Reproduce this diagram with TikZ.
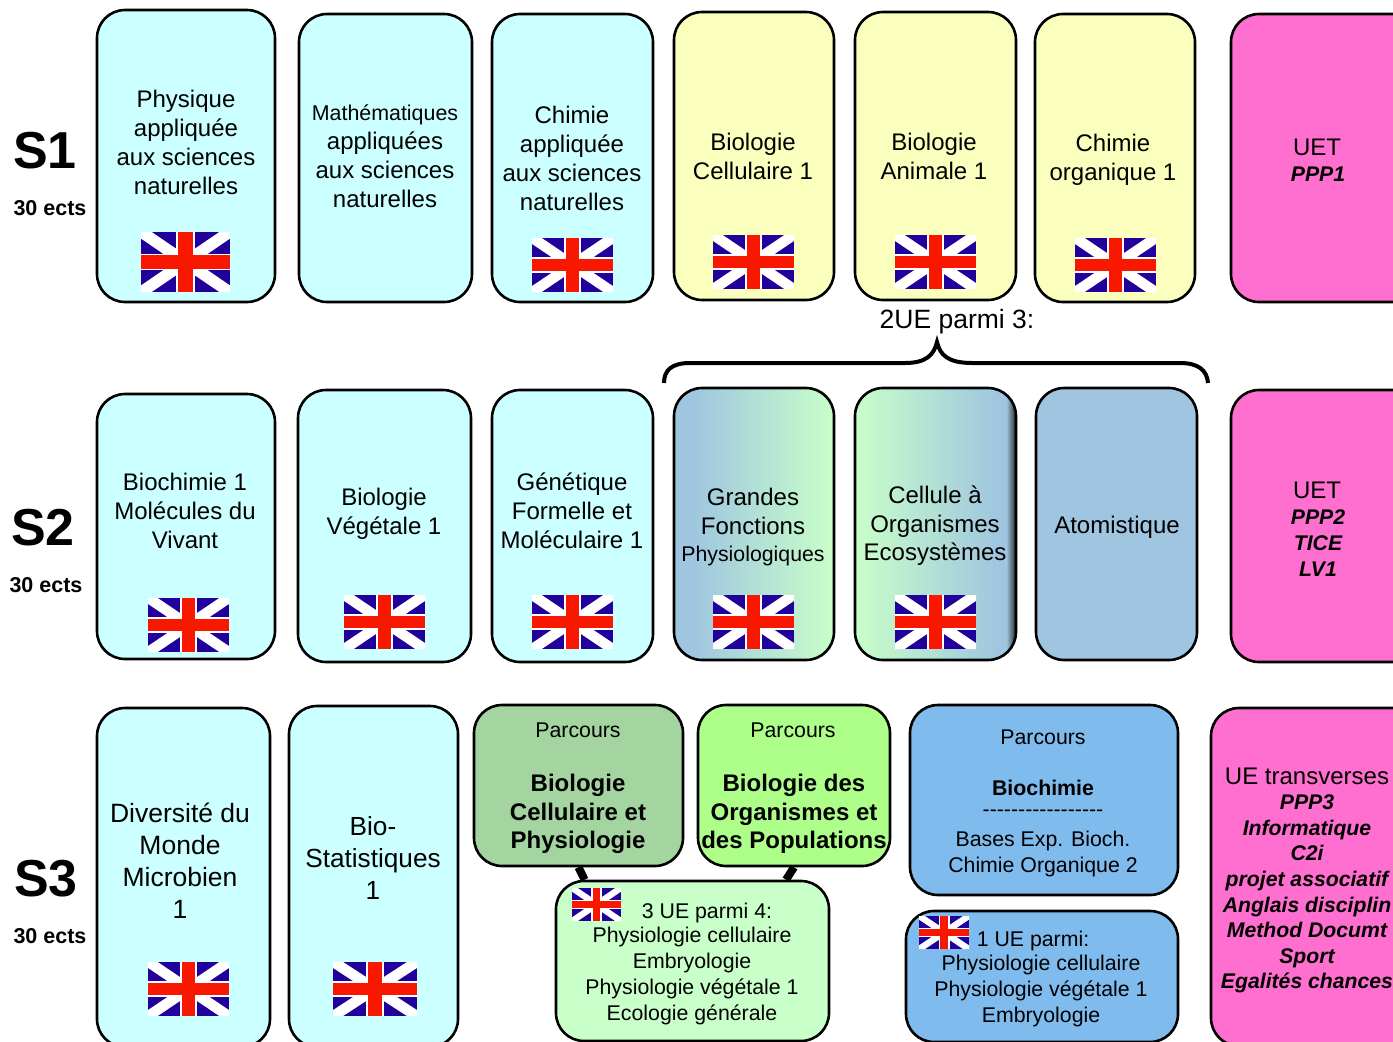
\documentclass[tikz,border=0pt]{standalone}
\usepackage{fontspec}
\setmainfont{Liberation Sans}
\usetikzlibrary{backgrounds}
\definecolor{uecyan}{HTML}{CCFFFF}
\definecolor{ueyellow}{HTML}{FAFFBE}
\definecolor{uepink}{HTML}{FF6FCF}
\definecolor{ueblue}{HTML}{9FC5E0}
\definecolor{uemint}{HTML}{C9FFC9}
\definecolor{uesage}{HTML}{A4D4A0}
\definecolor{uelime}{HTML}{AEFF8A}
\definecolor{uesky}{HTML}{80BBEE}
\definecolor{flagblue}{HTML}{22009C}
\definecolor{flagred}{HTML}{F81800}
\pgfdeclarehorizontalshading{grandesshade}{100bp}{color(0bp)=(ueblue); color(30bp)=(ueblue); color(75bp)=(uemint); color(100bp)=(uemint)}
\pgfdeclarehorizontalshading{celluleshade}{100bp}{color(0bp)=(uemint); color(25bp)=(uemint); color(70bp)=(ueblue); color(72bp)=(ueblue); color(75bp)=(black!85); color(100bp)=(black!85)}
\tikzset{
	uebox/.style={draw=black, line width=2.6pt, rounded corners=28pt, inner sep=0pt},
	txtbig/.style={align=center, inner sep=0pt, font=\fontsize{26.5}{32}\selectfont},
	txtmid/.style={align=center, inner sep=0pt, font=\fontsize{24}{29}\selectfont},
	txtsmall/.style={align=center, inner sep=0pt, font=\fontsize{21.3}{25.7}\selectfont},
	txtbold/.style={align=center, inner sep=0pt, font=\fontsize{24}{28.5}\selectfont\bfseries},
	txtppp/.style={align=center, inner sep=0pt, font=\fontsize{21.2}{25.6}\selectfont\bfseries\itshape},
	semlabel/.style={inner sep=0pt, font=\fontsize{52}{52}\selectfont\bfseries},
	ectslabel/.style={inner sep=0pt, font=\fontsize{21.5}{21.5}\selectfont\bfseries},
	uelink/.style={line width=8pt, black},
}
\def\uebox[#1](#2)(#3:#4:#5:#6){\node[uebox,#1,minimum width={(#5-#3)*1pt},minimum height={(#6-#4)*1pt}] (#2) at ({(#3+#5)/2},{(#4+#6)/2}) {};}
\def\ukflag(#1:#2:#3:#4){
	\begin{scope}[shift={(#1,#2)},xscale=#3,yscale=#4]
		\fill[flagblue] (0,0) rectangle (1,1);
		\fill[white] (0,0) -- (.12,0) -- (1,.89) -- (1,1) -- (.88,1) -- (0,.11) -- cycle;
		\fill[white] (1,0) -- (.88,0) -- (0,.89) -- (0,1) -- (.12,1) -- (1,.11) -- cycle;
		\fill[white] (.39,0) rectangle (.61,1);
		\fill[white] (0,.36) rectangle (1,.64);
		\fill[flagred] (.42,0) rectangle (.58,1);
		\fill[flagred] (0,.39) rectangle (1,.61);
	\end{scope}
}
\begin{document}
\begin{tikzpicture}[x=1pt,y=-1pt]
		\useasboundingbox (0,0) rectangle (1393,1042);
		\clip (0,0) rectangle (1393,1042);
		%%%%% S1 %%%%%
		\node[semlabel] (sOne) at (45,151) {S1};
		\node[ectslabel] (ectsOne) at (50,208) {30 ects};
		\uebox[fill=uecyan](physique)(97:10:275:302);
		\uebox[fill=uecyan](maths)(299:14:472:302);
		\uebox[fill=uecyan](chimieA)(492:14:653:302);
		\uebox[fill=ueyellow](bioCell)(674:12:834:300);
		\uebox[fill=ueyellow](bioAnim)(855:12:1016:300);
		\uebox[fill=ueyellow](chimieO)(1035:14:1195:302);
		\uebox[fill=uepink](uetOne)(1231:14:1425:302);
		\node[txtmid] (physiqueT) at (186,142) {Physique\\appliquée\\aux sciences\\naturelles};
		\node[txtmid] (mathsT) at (385,156) {{\fontsize{21.4}{29}\selectfont Mathématiques}\\appliquées\\aux sciences\\naturelles};
		\node[txtmid] (chimieAT) at (572,158.5) {Chimie\\appliquée\\aux sciences\\naturelles};
		\node[txtmid] (bioCellT) at (753,156.5) {Biologie\\Cellulaire 1};
		\node[txtmid] (bioAnimT) at (934,156.5) {Biologie\\Animale 1};
		\node[txtmid] (chimieOT) at (1113,160) {Chimie\\organique 1};
		\node[txtmid] (uetOneT) at (1317,147) {UET};
		\node[txtppp] (pppOne) at (1318,174) {PPP1};
		\ukflag(141:232:89:60);
		\ukflag(532:238:81:54);
		\ukflag(713:235:81:54);
		\ukflag(895:235:81:54);
		\ukflag(1075:238:81:54);
		
		%%%%% choice %%%%%
		\node[txtmid, font=\fontsize{26.5}{30}\selectfont] (choixT) at (957,322) {2UE parmi 3:};
		\draw[line width=4pt] (664,383) .. controls (664,370) and (672,363) .. (690,363) -- (905,363) .. controls (926,363) and (934,355) .. (937,342) .. controls (940,355) and (948,363) .. (972,363) -- (1180,363) .. controls (1198,363) and (1207,370) .. (1208,383);
		
		%%%%% S2 %%%%%
		\node[semlabel] (sTwo) at (43,528) {S2};
		\node[ectslabel] (ectsTwo) at (46,585) {30 ects};
		\uebox[fill=uecyan](biochimie)(97:394:275:659);
		\uebox[fill=uecyan](bioVeg)(298:390:471:662);
		\uebox[fill=uecyan](genetique)(492:390:653:662);
		\uebox[shading=grandesshade](grandes)(674:388:834:660);
		\uebox[shading=celluleshade](cellule)(855:388:1016:660);
		\uebox[fill=ueblue](atomes)(1036:388:1197:660);
		\uebox[fill=uepink](uetTwo)(1231:390:1425:662);
		\node[txtmid] (biochimieT) at (185,511) {Biochimie 1\\Molécules du\\Vivant};
		\node[txtmid] (bioVegT) at (384,513.5) {Biologie\\Végétale 1};
		\node[txtmid] (genetiqueT) at (572,511) {Génétique\\Formelle et\\Moléculaire 1};
		\node[txtmid] (grandesT) at (753,527) {Grandes\\Fonctions\\[-2pt]{\fontsize{21.3}{26}\selectfont Physiologiques}};
		\node[txtmid] (celluleT) at (935,526) {Cellule à\\Organismes\\[-1pt]Ecosystèmes};
		\node[txtmid] (atomesT) at (1117,527) {Atomistique};
		\node[txtmid] (uetTwoT) at (1317,490) {UET};
		\node[txtppp] (pppTwo) at (1318,543) {PPP2\\TICE\\LV1};
		\ukflag(148:598:81:54);
		\ukflag(344:595:81:54);
		\ukflag(532:595:81:54);
		\ukflag(713:595:81:54);
		\ukflag(895:595:81:54);
		
		%%%%% S3 %%%%%
		\node[semlabel] (sThree) at (46,879) {S3};
		\node[ectslabel] (ectsThree) at (50,936) {30 ects};
		\uebox[fill=uecyan](diversite)(97:708:270:1047);
		\uebox[fill=uecyan](biostat)(289:706:458:1047);
		\uebox[fill=uesage](parcBCP)(474:705:683:866);
		\uebox[fill=uelime](parcBOP)(698:705:890:866);
		\uebox[fill=uemint](ueQuatre)(556:881:829:1041);
		\uebox[fill=uesky](parcBio)(910:705:1178:895);
		\uebox[fill=uesky](ueUne)(906:911:1178:1042);
		\uebox[fill=uepink](uetThree)(1211:708:1425:1046);
		\begin{scope}[on background layer]
			\draw[uelink] (parcBCP.south) -- (ueQuatre.143);
			\draw[uelink] (parcBOP.south) -- (ueQuatre.41);
		\end{scope}
		\node[txtbig] (diversiteT) at (180,861) {Diversité du\\Monde\\Microbien\\1};
		\node[txtbig, font=\fontsize{26.2}{32}\selectfont] (biostatT) at (373,858) {Bio-\\Statistiques\\1};
		\node[txtsmall] (parcBCPa) at (578,730) {Parcours};
		\node[txtbold] (parcBCPb) at (578,814) {Biologie\\Cellulaire et\\Physiologie};
		\node[txtsmall] (parcBOPa) at (793,730) {Parcours};
		\node[txtbold] (parcBOPb) at (794,814) {Biologie des\\Organismes et\\des Populations};
		\node[txtsmall] (ueQuatreH) at (707,913) {3 UE parmi 4:};
		\node[txtsmall] (ueQuatreT) at (692,976) {Physiologie cellulaire\\Embryologie\\Physiologie végétale 1\\Ecologie générale};
		\node[txtsmall] (parcBioa) at (1043,737) {Parcours};
		\node[txtsmall] (parcBiob) at (1043,788) {\bfseries Biochimie};
		\node[txtsmall] (parcBioc) at (1043,813) {{-}{-}{-}{-}{-}{-}{-}{-}{-}{-}{-}{-}{-}{-}{-}{-}{-}};
		\node[txtsmall] (parcBiod) at (1043,854) {Bases Exp. Bioch.\\Chimie Organique 2};
		\node[txtsmall] (ueUneH) at (1033,941) {1 UE parmi:};
		\node[txtsmall] (ueUneT) at (1041,991) {Physiologie cellulaire\\Physiologie végétale 1\\Embryologie};
		\node[txtmid] (uetThreeT) at (1307,776) {UE transverses};
		\node[txtppp] (pppThree) at (1307,894) {PPP3\\Informatique\\C2i\\projet associatif\\Anglais disciplin\\Method Documt\\Sport\\Egalités chances};
		\ukflag(148:962:81:54);
		\ukflag(333:962:84:54);
		\ukflag(572:888:49:33);
		\ukflag(919:916:50:33);
		%%%%% END %%%%%
	\end{tikzpicture}
\end{document}
